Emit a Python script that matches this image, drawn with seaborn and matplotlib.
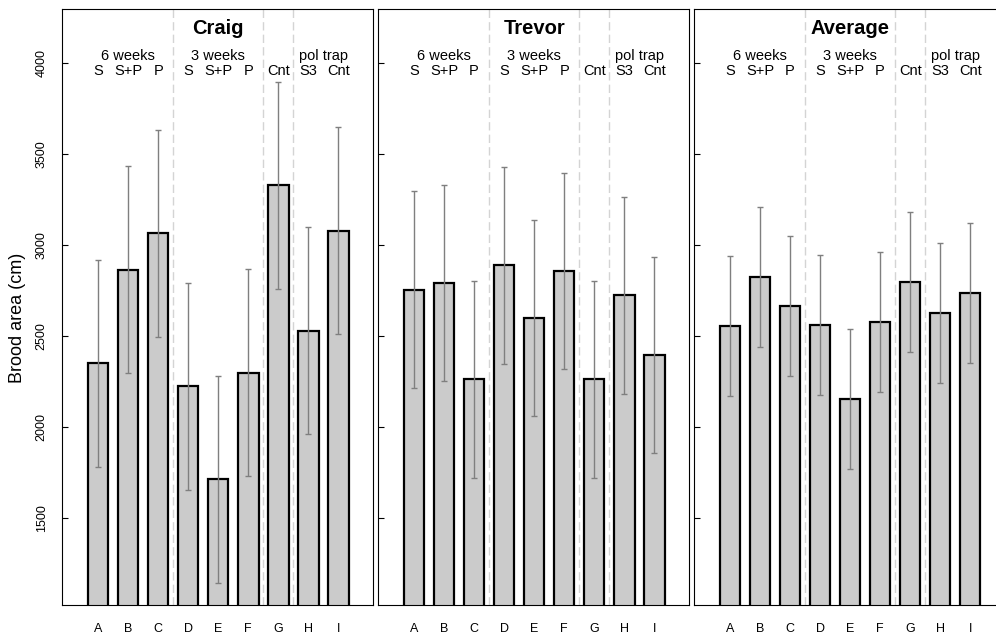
# brood_area_panels.py
import pandas as pd
import numpy as np
import matplotlib.pyplot as plt
import seaborn as sns

# --------------------------
# DATA
# --------------------------
letters = ["A", "B", "C", "D", "E", "F", "G", "H", "I"]
treatments = ["S", "S+P", "P", "S", "S+P", "P", "Cnt", "S3", "Cnt"]
panels = ["Craig", "Trevor", "Average"]

craig_mean = [2350, 2864, 3065, 2224, 1712, 2297, 3328, 2528, 3080]
craig_se = [570, 570, 570, 570, 570, 570, 570, 570, 570]
trevor_mean = [2755, 2790, 2261, 2888, 2598, 2858, 2261, 2723, 2394]
trevor_se = [540, 540, 540, 540, 540, 540, 540, 540, 540]
average_mean = [2554, 2827, 2664, 2558, 2154, 2578, 2796, 2627, 2739]
average_se = [385, 385, 385, 385, 385, 385, 385, 385, 385]

groups = ["6 weeks", "3 weeks", "pol trap"]
group_pos = [1, 4, 7.5]
separators = [2.5, 5.5, 6.5]
yticks = [1500, 2000, 2500, 3000, 3500, 4000]

df = pd.DataFrame({
    "panel": np.repeat(panels, len(letters)),
    "letter": letters * 3,
    "mean": craig_mean + trevor_mean + average_mean,
    "se": craig_se + trevor_se + average_se,
})

# --------------------------
# STYLE
# --------------------------
sns.set_style("white")
plt.rcParams["font.family"] = ["Liberation Sans", "DejaVu Sans"]
plt.rcParams["text.color"] = "black"
plt.rcParams["xtick.color"] = "black"
plt.rcParams["ytick.color"] = "black"
plt.rcParams["axes.labelcolor"] = "black"

W, H = 996, 635
fig = plt.figure(figsize=(W / 100, H / 100), dpi=100)

top, bottom = 9.3, 605
lefts = [61.7, 377.6, 693.5]
pw = 311.6

for i, name in enumerate(panels):
    ax = fig.add_axes([lefts[i] / W, 1 - bottom / H, pw / W, (bottom - top) / H])
    sub = df[df["panel"] == name]

    for s in separators:
        ax.axvline(s, color="#d4d4d4", lw=1, ls=(0, (6, 3)), zorder=0)

    sns.barplot(data=sub, x="letter", y="mean", order=letters, ax=ax,
                color="#cbcbcb", saturation=1, edgecolor="black",
                linewidth=1.6, width=0.68, errorbar=None, zorder=2)
    ax.errorbar(np.arange(len(letters)), sub["mean"], yerr=sub["se"],
                fmt="none", ecolor="#7f7f7f", elinewidth=1, capsize=2,
                capthick=1, zorder=3)

    ax.set_xlim(-1.21, 9.16)
    ax.set_ylim(1020, 4297)
    ax.set_xlabel("")
    ax.set_ylabel("")

    ax.set_yticks(yticks)
    ax.tick_params(axis="y", left=True, direction="in", length=4, width=0.8,
                   color="black", labelcolor="black", pad=10, labelsize=9,
                   labelrotation=90)
    for lab in ax.get_yticklabels():
        lab.set_va("center")
    if i > 0:
        ax.set_yticklabels([])
    ax.tick_params(axis="x", length=0, pad=13, labelsize=9, labelcolor="black")

    for sp in ax.spines.values():
        sp.set_color("black")
        sp.set_linewidth(0.8)

    tr = ax.get_xaxis_transform()
    ax.text(4, 0.967, name, transform=tr, ha="center", va="center",
            fontsize=14.5, fontweight="bold", color="black")
    for g, gx in zip(groups, group_pos):
        ax.text(gx, 0.921, g, transform=tr, ha="center", va="center",
                fontsize=10.5, color="black")
    for k, t in enumerate(treatments):
        ax.text(k, 0.896, t, transform=tr, ha="center", va="center",
                fontsize=10.5, color="black")

fig.text(18 / W, 0.5, "Brood area (cm)", rotation=90, ha="center",
         va="center", fontsize=13, color="black")

plt.savefig("out.png", dpi=100)
